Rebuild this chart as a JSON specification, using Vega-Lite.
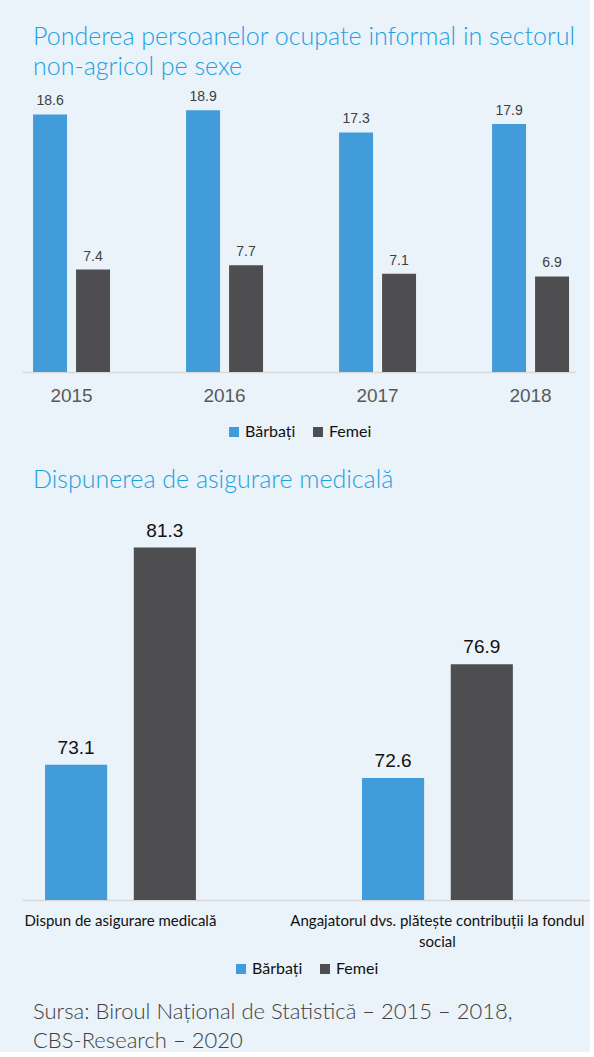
{
  "$schema": "https://vega.github.io/schema/vega-lite/v6.json",
  "background": "#EAF2FA",
  "padding": {"left": 22, "top": 25, "right": 0, "bottom": 0},
  "datasets": {
    "sectorul": [
      {"an": "2015", "sex": "Bărbați", "valoare": 18.6},
      {"an": "2015", "sex": "Femei", "valoare": 7.4},
      {"an": "2016", "sex": "Bărbați", "valoare": 18.9},
      {"an": "2016", "sex": "Femei", "valoare": 7.7},
      {"an": "2017", "sex": "Bărbați", "valoare": 17.3},
      {"an": "2017", "sex": "Femei", "valoare": 7.1},
      {"an": "2018", "sex": "Bărbați", "valoare": 17.9},
      {"an": "2018", "sex": "Femei", "valoare": 6.9}
    ],
    "asigurare": [
      {"categorie": "Dispun de asigurare medicală", "sex": "Bărbați", "valoare": 73.1},
      {"categorie": "Dispun de asigurare medicală", "sex": "Femei", "valoare": 81.3},
      {"categorie": "Angajatorul dvs. plătește contribuții la fondul social", "sex": "Bărbați", "valoare": 72.6},
      {"categorie": "Angajatorul dvs. plătește contribuții la fondul social", "sex": "Femei", "valoare": 76.9}
    ]
  },
  "title": {
    "text": ["Sursa: Biroul Național de Statistică – 2015 – 2018,", "CBS-Research – 2020"],
    "orient": "bottom",
    "anchor": "start",
    "frame": "bounds",
    "dx": 11,
    "offset": 25,
    "font": "Lato",
    "fontSize": 22,
    "fontWeight": 300,
    "color": "#404040",
    "lineHeight": 29
  },
  "spacing": 27,
  "vconcat": [
    {
      "width": 553,
      "height": 277,
      "data": {"name": "sectorul"},
      "title": {
        "text": ["Ponderea persoanelor ocupate informal in sectorul", "non-agricol pe sexe"],
        "anchor": "start",
        "frame": "group",
        "dx": 11,
        "offset": 10,
        "font": "Lato",
        "fontSize": 25,
        "fontWeight": 300,
        "color": "#1BA1E0",
        "lineHeight": 30
      },
      "encoding": {
        "x": {
          "field": "an", "type": "nominal",
          "scale": {"paddingInner": 0.497, "paddingOuter": 0.0556, "align": 0.65},
          "axis": {"title": null, "labelAngle": 0, "labelFont": "Liberation Sans", "labelFontSize": 19, "labelColor": "#595959", "ticks": false, "labelPadding": 14, "domainColor": "#D9D9D9", "domainWidth": 1.5}
        },
        "xOffset": {"field": "sex", "type": "nominal", "sort": ["Bărbați", "Femei"], "scale": {"paddingInner": 0.21}},
        "y": {"field": "valoare", "type": "quantitative", "scale": {"domain": [0, 20]}, "axis": null},
        "color": {
          "field": "sex", "type": "nominal",
          "scale": {"domain": ["Bărbați", "Femei"], "range": ["#419CD9", "#4E4E50"]},
          "legend": {"title": null, "orient": "bottom", "direction": "horizontal", "symbolType": "square", "symbolSize": 100, "symbolStrokeWidth": 0, "labelFont": "Lato", "labelFontSize": 16, "labelOffset": 3, "labelColor": "#111111", "columnPadding": 14, "offset": 19}
        }
      },
      "layer": [
        {"mark": {"type": "bar"}},
        {
          "mark": {"type": "text", "baseline": "middle", "dy": -13, "font": "Liberation Sans", "fontSize": 14},
          "encoding": {
            "text": {"field": "valoare", "type": "quantitative", "format": ".1f"},
            "color": {"value": "#404040"}
          }
        }
      ]
    },
    {
      "width": 568,
      "height": 371,
      "data": {"name": "asigurare"},
      "title": {
        "text": "Dispunerea de asigurare medicală",
        "anchor": "start",
        "frame": "group",
        "dx": 11,
        "offset": 29,
        "font": "Lato",
        "fontSize": 25,
        "fontWeight": 300,
        "color": "#1BA1E0"
      },
      "encoding": {
        "x": {
          "field": "categorie", "type": "nominal", "sort": null,
          "scale": {"paddingInner": 0.524, "paddingOuter": 0.158, "align": 0.23},
          "axis": {"title": null, "labelAngle": 0, "labelFont": "Lato", "labelFontSize": 15, "labelColor": "#111111", "ticks": false, "labelPadding": 13, "labelLineHeight": 21, "labelLimit": 400, "domainColor": "#D9D9D9", "domainWidth": 1.5,
            "labelExpr": "datum.value == 'Angajatorul dvs. plătește contribuții la fondul social' ? ['Angajatorul dvs. plătește contribuții la fondul', 'social'] : datum.label"}
        },
        "xOffset": {"field": "sex", "type": "nominal", "sort": ["Bărbați", "Femei"], "scale": {"paddingInner": 0.3}},
        "y": {"field": "valoare", "type": "quantitative", "scale": {"domain": [68, 82], "zero": false}, "axis": null},
        "color": {
          "field": "sex", "type": "nominal",
          "scale": {"domain": ["Bărbați", "Femei"], "range": ["#419CD9", "#4E4E50"]},
          "legend": {"title": null, "orient": "bottom", "direction": "horizontal", "symbolType": "square", "symbolSize": 100, "symbolStrokeWidth": 0, "labelFont": "Lato", "labelFontSize": 16, "labelOffset": 3, "labelColor": "#111111", "columnPadding": 14, "offset": 12}
        }
      },
      "layer": [
        {"mark": {"type": "bar", "clip": true}},
        {
          "mark": {"type": "text", "baseline": "middle", "dy": -17, "font": "Liberation Sans", "fontSize": 19},
          "encoding": {
            "text": {"field": "valoare", "type": "quantitative", "format": ".1f"},
            "color": {"value": "#111111"}
          }
        }
      ]
    }
  ],
  "resolve": {
    "scale": {"color": "independent", "x": "independent", "xOffset": "independent", "y": "independent"},
    "legend": {"color": "independent"}
  },
  "config": {
    "view": {"stroke": null},
    "legend": {"layout": {"bottom": {"anchor": "middle"}}}
  }
}
